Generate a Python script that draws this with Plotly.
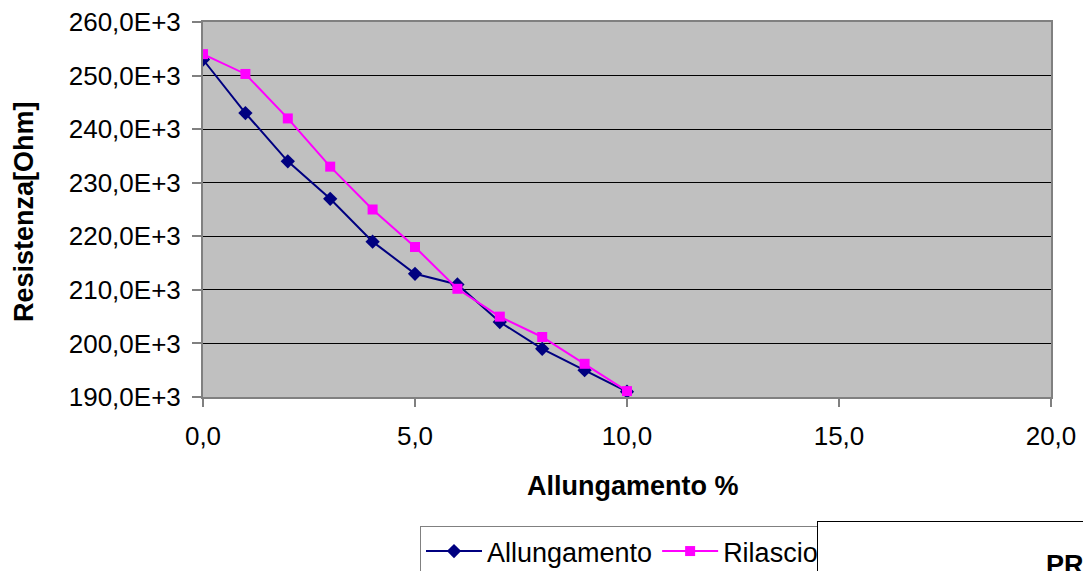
import plotly.graph_objects as go

# Data
allungamento_x = [0, 1, 2, 3, 4, 5, 6, 7, 8, 9, 10]
allungamento_y = [253000, 243000, 234000, 227000, 219000, 213000, 211000, 204000, 199000, 195000, 191000]
rilascio_x = [0, 1, 2, 3, 4, 5, 6, 7, 8, 9, 10]
rilascio_y = [254000, 250300, 242000, 233000, 225000, 218000, 210200, 205000, 201200, 196200, 191100]

y_tickvals = [190000, 200000, 210000, 220000, 230000, 240000, 250000, 260000]
y_ticktext = ["190,0E+3", "200,0E+3", "210,0E+3", "220,0E+3", "230,0E+3", "240,0E+3", "250,0E+3", "260,0E+3"]
x_tickvals = [0, 5, 10, 15, 20]
x_ticktext = ["0,0", "5,0", "10,0", "15,0", "20,0"]

W, H = 1083, 571
L, R, T, B = 203, 32, 22, 174
pw, ph = W - L - R, H - T - B

def px(xp):
    return (xp - L) / pw

def py(yp):
    return (H - B - yp) / ph

FONT = "Liberation Sans, Arial, sans-serif"

fig = go.Figure()
fig.add_trace(go.Scatter(
    x=allungamento_x, y=allungamento_y, mode="lines+markers", name="Allungamento",
    line=dict(color="#000080", width=2),
    marker=dict(symbol="diamond", size=11, color="#000080"),
))
fig.add_trace(go.Scatter(
    x=rilascio_x, y=rilascio_y, mode="lines+markers", name="Rilascio",
    line=dict(color="#FF00FF", width=2),
    marker=dict(symbol="square", size=10, color="#FF00FF"),
))

fig.update_layout(
    width=W, height=H,
    margin=dict(l=L, r=R, t=T, b=B, autoexpand=False),
    paper_bgcolor="white",
    plot_bgcolor="#C0C0C0",
    font=dict(family=FONT, color="black", size=26),
    showlegend=True,
    legend=dict(
        orientation="h", x=px(420), y=py(526), xanchor="left", yanchor="top",
        bgcolor="white", bordercolor="#808080", borderwidth=1,
        font=dict(family=FONT, size=27, color="black"),
        itemwidth=56, tracegroupgap=0,
    ),
    xaxis=dict(
        range=[0, 20], tickvals=x_tickvals, ticktext=x_ticktext,
        showgrid=False, zeroline=False,
        showline=True, linecolor="#808080", linewidth=2, mirror=True,
        ticks="outside", ticklen=8, tickcolor="#808080", tickwidth=2,
        tickfont=dict(family=FONT, size=26), ticklabelstandoff=7,
    ),
    yaxis=dict(
        range=[190000, 260000], tickvals=y_tickvals, ticktext=y_ticktext,
        showgrid=True, gridcolor="black", gridwidth=1, zeroline=False,
        showline=True, linecolor="#808080", linewidth=2, mirror=True,
        ticks="outside", ticklen=9, tickcolor="#808080", tickwidth=2,
        tickfont=dict(family=FONT, size=26), ticklabelstandoff=6,
    ),
    annotations=[
        dict(text="<b>Allungamento %</b>", xref="paper", yref="paper",
             x=px(633), y=py(486), xanchor="center", yanchor="middle",
             showarrow=False, font=dict(family=FONT, size=27, color="black")),
        dict(text="<b>Resistenza[Ohm]</b>", xref="paper", yref="paper",
             x=px(24), y=py(212), xanchor="center", yanchor="middle", textangle=-90,
             showarrow=False, font=dict(family=FONT, size=27, color="black")),
        dict(text=" ", xref="paper", yref="paper",
             x=px(817), y=py(521), xanchor="left", yanchor="top",
             width=320, height=90, bgcolor="white", bordercolor="black", borderwidth=1,
             showarrow=False),
        dict(text="<b>PR</b>", xref="paper", yref="paper",
             x=px(1044), y=py(548), xanchor="left", yanchor="top",
             showarrow=False, font=dict(family=FONT, size=27, color="black")),
    ],
)

fig.write_html("out.html")
